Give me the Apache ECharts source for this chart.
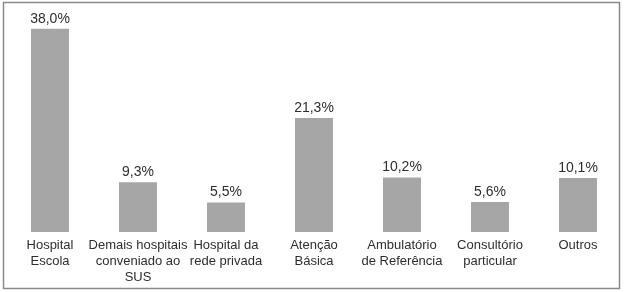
<!DOCTYPE html>
<html>
<head>
<meta charset="utf-8">
<script src="https://cdn.jsdelivr.net/npm/echarts@6/dist/echarts.min.js"></script>
<style>
  html, body { margin: 0; padding: 0; background: #fff; }
  #chart { width: 624px; height: 292px; }
</style>
</head>
<body>
<div id="chart"></div>
<script>
// locais de atendimento
var categorias = ['Hospital\nEscola', 'Demais hospitais\nconveniado ao\nSUS', 'Hospital da\nrede privada',
    'Atenção\nBásica', 'Ambulatório\nde Referência', 'Consultório\nparticular', 'Outros'];
var percentuais = [38.0, 9.3, 5.5, 21.3, 10.2, 5.6, 10.1];

var chart = echarts.init(document.getElementById('chart'));
var option = {
    animation: false,
    textStyle: { fontFamily: '"Liberation Sans", Arial, sans-serif' },
    graphic: [
        {
            type: 'rect',
            shape: { x: 3.5, y: 2.5, width: 616, height: 286 },
            style: { fill: 'none', stroke: '#8a8a8a', lineWidth: 1.5 }
        }
    ],
    grid: {
        left: 6,
        right: 2,
        top: 18,
        bottom: 60
    },
    xAxis: {
        type: 'category',
        data: categorias,
        axisLine: { show: false },
        axisTick: { show: false },
        axisLabel: {
            interval: 0,
            margin: 5,
            fontSize: 13,
            lineHeight: 16,
            color: '#2e2e2e'
        }
    },
    yAxis: {
        type: 'value',
        min: 0,
        max: 40,
        show: false,
        splitLine: { show: false }
    },
    series: [
        {
            type: 'bar',
            data: percentuais,
            barWidth: 38,
            itemStyle: { color: '#a6a6a7' },
            label: {
                show: true,
                position: 'top',
                distance: 3,
                fontSize: 14,
                color: '#2e2e2e',
                formatter: function (p) {
                    return p.value.toFixed(1).replace('.', ',') + '%';
                }
            }
        }
    ]
};
chart.setOption(option);
</script>
</body>
</html>
